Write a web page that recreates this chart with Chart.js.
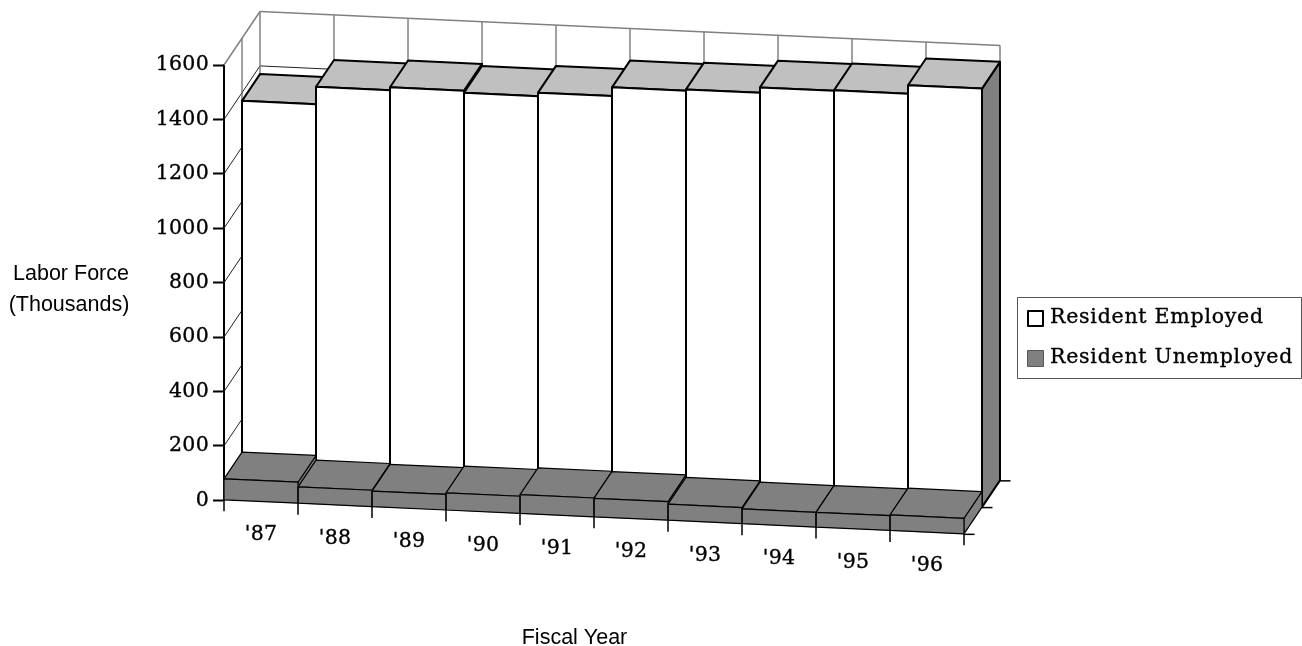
<!DOCTYPE html>
<html>
<head>
<meta charset="utf-8">
<script src="https://cdn.jsdelivr.net/npm/chart.js@4/dist/chart.umd.min.js"></script>
<style>
    html, body { margin: 0; padding: 0; background: #fff; }
    canvas { display: block; }
</style>
</head>
<body>
<canvas id="laborChart" width="1302" height="646"></canvas>
<script>
// data
const years = ["'87", "'88", "'89", "'90", "'91", "'92", "'93", "'94", "'95", "'96"];
const employed = [1370, 1434, 1445, 1437, 1450, 1482, 1487, 1507, 1509, 1540];
const unemployed = [79, 62, 59, 65, 71, 70, 61, 56, 56, 59];
const seriesNames = ["Resident Employed", "Resident Unemployed"];
const yTicks = [0, 200, 400, 600, 800, 1000, 1200, 1400, 1600];

// oblique view: how far the back of the box is shifted, and the fall of the floor
const depthX = 36;
const depthY = 53.5;
const slope = 0.046;

const serif = '"DejaVu Serif", serif';
const sans = '"Liberation Sans", Arial, sans-serif';

// row 0 of the depth axis is the unemployed one, the employed row stands behind it
function rowOf(datasetIndex) {
    return datasetIndex === 0 ? 0.5 : 0;
}

function project(chart, x, y, d) {
    return [x + depthX * d, y - depthY * d + slope * (x - chart.chartArea.left)];
}

function line(ctx, a, b) {
    ctx.beginPath();
    ctx.moveTo(a[0], a[1]);
    ctx.lineTo(b[0], b[1]);
    ctx.stroke();
}

function poly(ctx, pts, fill, stroke, width) {
    ctx.beginPath();
    pts.forEach((p, i) => i ? ctx.lineTo(p[0], p[1]) : ctx.moveTo(p[0], p[1]));
    ctx.closePath();
    if (fill) {
        ctx.fillStyle = fill;
        ctx.fill();
    }
    if (stroke) {
        ctx.strokeStyle = stroke;
        ctx.lineWidth = width;
        ctx.lineJoin = "round";
        ctx.stroke();
    }
}

// serif text is a little heavier in the picture than the plain font
function heavyText(ctx, text, x, y) {
    ctx.fillText(text, x, y);
    ctx.strokeText(text, x, y);
}

const box3d = {
    id: "box3d",
    beforeDraw(chart) {
        chart.ctx.letterSpacing = "0.3px";
    },
    beforeDatasetsDraw(chart) {
        let ctx = chart.ctx;
        let yScale = chart.scales.y;
        let xScale = chart.scales.x;
        let left = chart.chartArea.left;
        let right = chart.chartArea.right;
        let top = yScale.getPixelForValue(1600);
        let zero = yScale.getPixelForValue(0);

        ctx.save();
        ctx.lineWidth = 1;
        ctx.strokeStyle = "#222";
        // value lines on the left wall and the back wall
        yTicks.forEach((t) => {
            if (t === 1600) return;
            let y = yScale.getPixelForValue(t);
            line(ctx, project(chart, left, y, 0), project(chart, left, y, 1));
            line(ctx, project(chart, left, y, 1), project(chart, right, y, 1));
        });
        // category lines on the back wall
        ctx.strokeStyle = "#444";
        for (let i = 1; i < years.length; i++) {
            let x = xScale.getPixelForValue(i) - xScale.getPixelForValue(0) + left;
            line(ctx, project(chart, x, zero, 1), project(chart, x, top, 1));
        }
        line(ctx, project(chart, left, zero, 0.5), project(chart, left, top, 0.5));
        // outer edge of the walls is grey
        ctx.strokeStyle = "#808080";
        ctx.lineWidth = 1.5;
        line(ctx, project(chart, left, top, 0), project(chart, left, top, 1));
        line(ctx, project(chart, left, top, 1), project(chart, right, top, 1));
        line(ctx, project(chart, left, zero, 1), project(chart, left, top, 1));
        line(ctx, project(chart, right, zero, 1), project(chart, right, top, 1));
        ctx.restore();
    },
    beforeDatasetDraw(chart, args) {
        let ctx = chart.ctx;
        let d = rowOf(args.index);
        let d2 = d + 0.5;
        let meta = chart.getDatasetMeta(args.index);
        let topColor = args.index === 0 ? "#c0c0c0" : "#808080";
        let width = args.index === 0 ? 2 : 1.2;

        meta.data.forEach((bar) => {
            let l = bar.x - bar.width / 2;
            let r = bar.x + bar.width / 2;
            poly(ctx, [project(chart, r, bar.y, d), project(chart, r, bar.y, d2), project(chart, r, bar.base, d2), project(chart, r, bar.base, d)], "#808080", "#000", width);
            poly(ctx, [project(chart, l, bar.y, d), project(chart, r, bar.y, d), project(chart, r, bar.y, d2), project(chart, l, bar.y, d2)], topColor, "#000", width);
        });

        // the library draws the front faces, sheared onto this row
        ctx.save();
        ctx.transform(1, slope, 0, 1, depthX * d, -depthY * d - slope * chart.chartArea.left);
    },
    afterDatasetDraw(chart, args) {
        let ctx = chart.ctx;
        ctx.restore();
        let d = rowOf(args.index);
        let width = args.index === 0 ? 2 : 1.2;
        chart.getDatasetMeta(args.index).data.forEach((bar) => {
            let l = bar.x - bar.width / 2;
            let r = bar.x + bar.width / 2;
            poly(ctx, [project(chart, l, bar.y, d), project(chart, r, bar.y, d), project(chart, r, bar.base, d), project(chart, l, bar.base, d)], null, "#000", width);
        });
    },
    afterDraw(chart) {
        let ctx = chart.ctx;
        let xScale = chart.scales.x;
        let yScale = chart.scales.y;
        let left = chart.chartArea.left;
        let right = chart.chartArea.right;
        let zero = yScale.getPixelForValue(0);

        ctx.save();
        ctx.strokeStyle = "#000";
        ctx.lineWidth = 1.5;
        // ticks under the floor
        for (let i = 0; i <= years.length; i++) {
            let x = left + i * (right - left) / years.length;
            let p = project(chart, x, zero, 0);
            line(ctx, p, [p[0], p[1] + 11]);
        }
        // ticks of the depth axis
        [0, 0.5, 1].forEach((d) => {
            let p = project(chart, right, zero, d);
            line(ctx, p, [p[0] + 10.5, p[1]]);
        });

        ctx.fillStyle = "#000";
        ctx.textAlign = "center";
        ctx.textBaseline = "middle";
        ctx.font = "20.5px " + serif;
        ctx.letterSpacing = "0.3px";
        ctx.lineWidth = 0.35;
        years.forEach((label, i) => {
            let p = project(chart, xScale.getPixelForValue(i), zero, 0);
            heavyText(ctx, label, p[0], p[1] + 33);
        });

        // axis titles
        ctx.letterSpacing = "0px";
        ctx.font = "21.5px " + sans;
        ctx.fillText("Labor Force", 71, 274);
        ctx.fillText("(Thousands)", 69, 305);
        ctx.fillText("Fiscal Year", 574.5, 638);

        // legend
        ctx.strokeStyle = "#555";
        ctx.lineWidth = 1;
        ctx.strokeRect(1017.5, 297.5, 284, 81);
        ctx.lineWidth = 2;
        ctx.strokeStyle = "#000";
        ctx.fillStyle = "#fff";
        ctx.fillRect(1028, 311, 15, 15);
        ctx.strokeRect(1028, 311, 15, 15);
        ctx.fillStyle = "#808080";
        ctx.strokeStyle = "#555";
        ctx.lineWidth = 1;
        ctx.fillRect(1028, 351, 15, 15);
        ctx.strokeRect(1027.5, 350.5, 16, 16);

        ctx.fillStyle = "#000";
        ctx.strokeStyle = "#000";
        ctx.lineWidth = 0.35;
        ctx.textAlign = "left";
        ctx.font = "20.5px " + serif;
        ctx.letterSpacing = "0.75px";
        heavyText(ctx, seriesNames[0], 1050, 317.5);
        heavyText(ctx, seriesNames[1], 1050, 357.5);
        ctx.restore();
    }
};

let laborChart = new Chart(document.getElementById("laborChart").getContext("2d"), {
    type: "bar",
    data: {
        labels: years,
        datasets: [
            { label: seriesNames[0], data: employed, backgroundColor: "#ffffff", borderWidth: 0, order: 2, clip: false },
            { label: seriesNames[1], data: unemployed, backgroundColor: "#808080", borderWidth: 0, order: 1, clip: false }
        ]
    },
    options: {
        responsive: false,
        animation: false,
        layout: {
            padding: { top: 65, right: 338, bottom: 145.7, left: 0 }
        },
        datasets: {
            bar: { grouped: false, barPercentage: 1, categoryPercentage: 1 }
        },
        plugins: {
            legend: { display: false },
            tooltip: { enabled: false }
        },
        scales: {
            x: {
                ticks: { display: false },
                grid: { display: false },
                border: { display: false },
                afterFit: (scale) => { scale.height = 0; }
            },
            y: {
                min: 0,
                max: 1600,
                afterFit: (scale) => { scale.width = 224; },
                afterBuildTicks: (scale) => { scale.ticks = yTicks.map((v) => ({ value: v })); },
                ticks: {
                    color: "#000",
                    padding: 4,
                    font: { family: "DejaVu Serif", size: 20.5 },
                    textStrokeColor: "#000",
                    textStrokeWidth: 0.35,
                    callback: (v) => String(v)
                },
                grid: { drawOnChartArea: false, color: "#000", tickLength: 11, tickWidth: 2 },
                border: { color: "#000", width: 2 }
            }
        }
    },
    plugins: [box3d]
});
</script>
</body>
</html>
